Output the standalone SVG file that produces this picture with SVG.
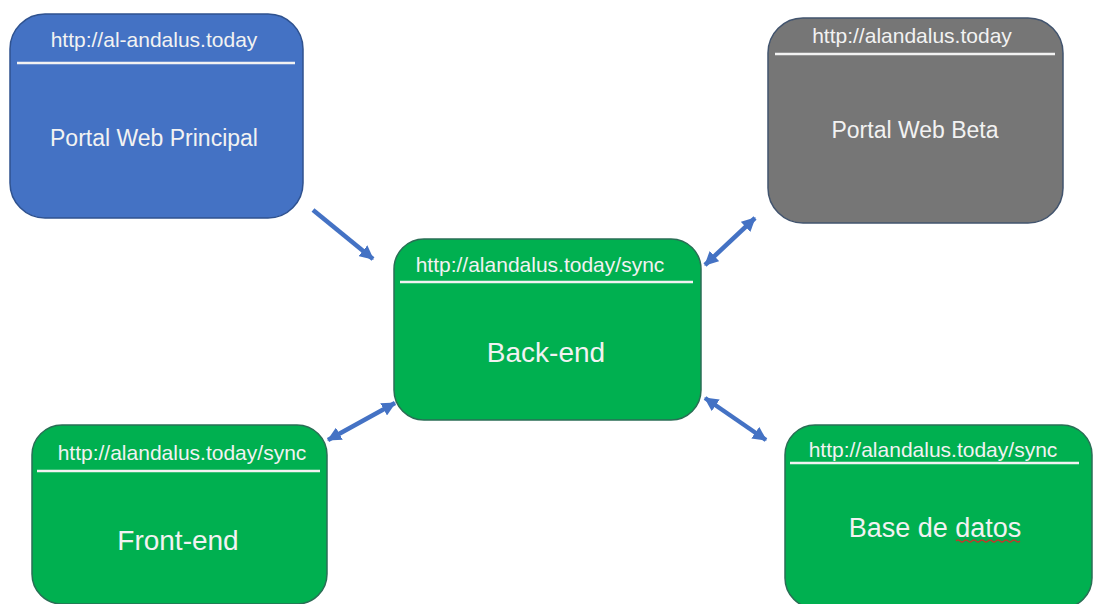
<svg xmlns="http://www.w3.org/2000/svg" width="1094" height="604" viewBox="0 0 1094 604">
  <defs>
    <style>
      .box { stroke-width: 1.5; }
      .blue { fill: #4472C4; stroke: #2F528F; }
      .gray { fill: #767676; stroke: #42546E; }
      .green { fill: #00B050; stroke: #2A6E55; }
      .sep { stroke: #F2F2F2; stroke-width: 2.5; }
      .hdr { font-family: "Liberation Sans", Arial, sans-serif; font-size: 21px; fill: #F2F2F2; text-anchor: middle; }
      .main { font-family: "Liberation Sans", Arial, sans-serif; fill: #F2F2F2; text-anchor: middle; }
      .conn { stroke: #4472C4; stroke-width: 4.5; fill: none; }
    </style>
    <marker id="ah" viewBox="0 0 14 14" refX="13" refY="7" markerWidth="14" markerHeight="14" markerUnits="userSpaceOnUse" orient="auto-start-reverse">
      <path d="M0,0 L14,7 L0,14 Z" fill="#4472C4"/>
    </marker>
  </defs>
  <rect width="1094" height="604" fill="#FFFFFF"/>

  <g id="portal-principal">
    <rect class="box blue" x="10" y="14" width="293" height="204" rx="35" ry="35"/>
    <line class="sep" x1="17" y1="63" x2="295" y2="63"/>
    <text class="hdr" x="154" y="47">http://al-andalus.today</text>
    <text class="main" x="154" y="146" font-size="23">Portal Web Principal</text>
  </g>

  <g id="portal-beta">
    <rect class="box gray" x="768" y="18" width="295" height="205" rx="35" ry="35"/>
    <line class="sep" x1="775" y1="54" x2="1055" y2="54"/>
    <text class="hdr" x="912" y="43">http://alandalus.today</text>
    <text class="main" x="915" y="138" font-size="23">Portal Web Beta</text>
  </g>

  <g id="back-end">
    <rect class="box green" x="394" y="239" width="307" height="181" rx="30" ry="30"/>
    <line class="sep" x1="400" y1="282" x2="693" y2="282"/>
    <text class="hdr" x="540" y="272">http://alandalus.today/sync</text>
    <text class="main" x="546" y="362" font-size="28">Back-end</text>
  </g>

  <g id="front-end">
    <rect class="box green" x="32" y="425" width="295" height="179" rx="30" ry="30"/>
    <line class="sep" x1="37" y1="471" x2="320" y2="471"/>
    <text class="hdr" x="182" y="460">http://alandalus.today/sync</text>
    <text class="main" x="178" y="550" font-size="28">Front-end</text>
  </g>

  <g id="base-de-datos">
    <rect class="box green" x="785" y="425" width="307" height="183" rx="30" ry="30"/>
    <line class="sep" x1="790" y1="463" x2="1079" y2="463"/>
    <text class="hdr" x="933" y="457">http://alandalus.today/sync</text>
    <text class="main" x="935" y="537" font-size="27">Base de datos</text>
    <path d="M956,541 q2,-2 4,0 t4,0 t4,0 t4,0 t4,0 t4,0 t4,0 t4,0 t4,0 t4,0 t4,0 t4,0 t4,0 t4,0 t4,0 t4,0" fill="none" stroke="#C0392B" stroke-width="1.2"/>
  </g>

  <g id="connectors">
    <line class="conn" x1="313" y1="210" x2="373" y2="259" marker-end="url(#ah)"/>
    <line class="conn" x1="705" y1="265" x2="755" y2="218" marker-start="url(#ah)" marker-end="url(#ah)"/>
    <line class="conn" x1="328" y1="440" x2="395" y2="403" marker-start="url(#ah)" marker-end="url(#ah)"/>
    <line class="conn" x1="705" y1="398" x2="766" y2="440" marker-start="url(#ah)" marker-end="url(#ah)"/>
  </g>
</svg>
